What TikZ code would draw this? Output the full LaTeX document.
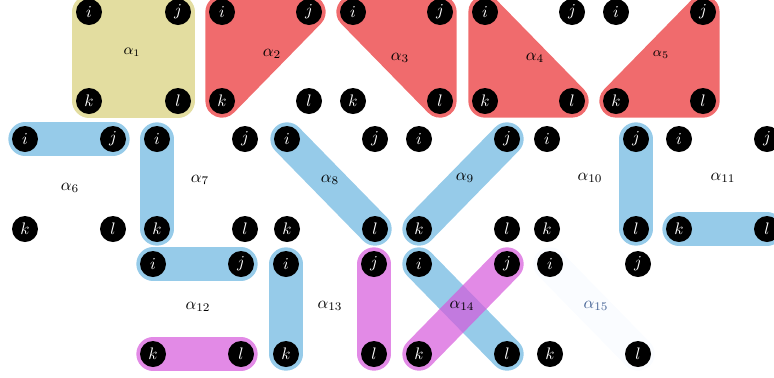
\documentclass[tikz,border=0pt]{standalone}
\usetikzlibrary{backgrounds}
\definecolor{yel}{RGB}{227,221,160}
\definecolor{redc}{RGB}{240,107,109}
\definecolor{blu}{RGB}{150,203,233}
\definecolor{magb}{RGB}{214,88,219}
\definecolor{faint}{RGB}{250,252,255}
\definecolor{lblblue}{RGB}{70,100,150}
\newcommand\quadpanel[5]{%
  \node[vtx] (#1i) at (#2,#4) {$i$};
  \node[vtx] (#1j) at (#3,#4) {$j$};
  \node[vtx] (#1k) at (#2,#5) {$k$};
  \node[vtx] (#1l) at (#3,#5) {$l$};}
\begin{document}
\begin{tikzpicture}[x=0.6pt,y=-0.6pt,
  vtx/.style={circle,fill=black,minimum size=15.6pt,inner sep=0pt,text=white},
  hl/.style={line width=20pt,line cap=round,line join=round},
  magc/.style={magb,opacity=0.7},
  lbl/.style={inner sep=0pt}]
\useasboundingbox (0,0) rectangle (774,377);
\clip (0,0) rectangle (774,377);
% row 1
\quadpanel{a1}{89}{178}{12}{101}
\quadpanel{a2}{222}{309}{12}{101}
\quadpanel{a3}{353}{440}{12}{101}
\quadpanel{a4}{485}{572}{12}{101}
\quadpanel{a5}{616}{703}{12}{101}
% row 2
\quadpanel{a6}{25}{113}{139}{229}
\quadpanel{a7}{157}{245}{139}{229}
\quadpanel{a8}{287}{375}{139}{229}
\quadpanel{a9}{419}{507}{139}{229}
\quadpanel{a10}{547}{636}{139}{229}
\quadpanel{a11}{679}{767}{139}{229}
% row 3
\quadpanel{a12}{153}{241}{264}{354}
\quadpanel{a13}{286}{374}{264}{354}
\quadpanel{a14}{419}{507}{264}{354}
\quadpanel{a15}{550}{638}{264}{354}
\begin{scope}[on background layer]
\filldraw[hl,yel] (a1i.center) -- (a1j.center) -- (a1l.center) -- (a1k.center) -- cycle;
\filldraw[hl,redc] (a2i.center) -- (a2j.center) -- (a2k.center) -- cycle;
\filldraw[hl,redc] (a3i.center) -- (a3j.center) -- (a3l.center) -- cycle;
\filldraw[hl,redc] (a4i.center) -- (a4k.center) -- (a4l.center) -- cycle;
\filldraw[hl,redc] (a5j.center) -- (a5k.center) -- (a5l.center) -- cycle;
\draw[hl,blu] (a6i.center) -- (a6j.center);
\draw[hl,blu] (a7i.center) -- (a7k.center);
\draw[hl,blu] (a8i.center) -- (a8l.center);
\draw[hl,blu] (a9j.center) -- (a9k.center);
\draw[hl,blu] (a10j.center) -- (a10l.center);
\draw[hl,blu] (a11k.center) -- (a11l.center);
\draw[hl,blu] (a12i.center) -- (a12j.center);
\draw[hl,magc] (a12k.center) -- (a12l.center);
\draw[hl,blu] (a13i.center) -- (a13k.center);
\draw[hl,magc] (a13j.center) -- (a13l.center);
\draw[hl,blu] (a14i.center) -- (a14l.center);
\draw[hl,magc] (a14j.center) -- (a14k.center);
\draw[hl,faint] (a15i.center) -- (a15l.center);
\end{scope}
% labels
\node[lbl,font=\small] (l1) at (132,52) {$\alpha_{1}$};
\node[lbl] (l2) at (272,54) {$\alpha_{2}$};
\node[lbl] (l3) at (400,58) {$\alpha_{3}$};
\node[lbl] (l4) at (535,58) {$\alpha_{4}$};
\node[lbl,font=\footnotesize] (l5) at (661,55) {$\alpha_{5}$};
\node[lbl] (l6) at (70,188) {$\alpha_{6}$};
\node[lbl] (l7) at (200,180) {$\alpha_{7}$};
\node[lbl] (l8) at (330,180) {$\alpha_{8}$};
\node[lbl] (l9) at (465,178) {$\alpha_{9}$};
\node[lbl] (l10) at (590,178) {$\alpha_{10}$};
\node[lbl] (l11) at (723,178) {$\alpha_{11}$};
\node[lbl] (l12) at (198,307) {$\alpha_{12}$};
\node[lbl] (l13) at (330,306) {$\alpha_{13}$};
\node[lbl] (l14) at (462,306) {$\alpha_{14}$};
\node[lbl,text=lblblue] (l15) at (596,306) {$\alpha_{15}$};
\end{tikzpicture}
\end{document}
